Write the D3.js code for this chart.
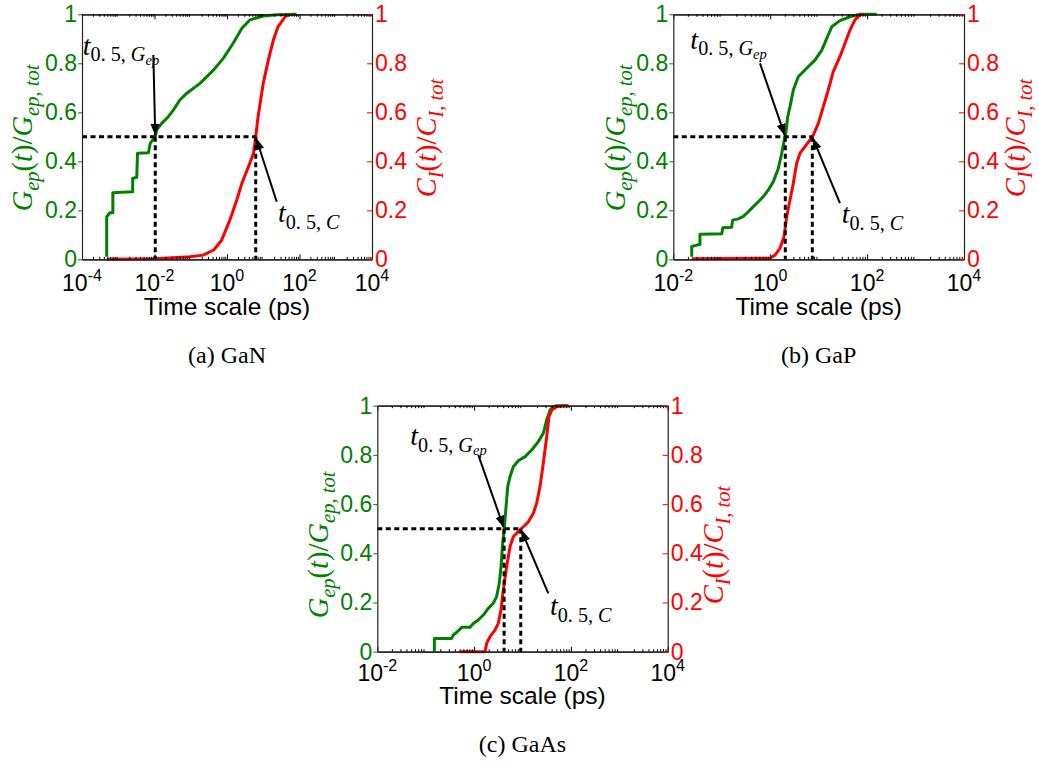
<!DOCTYPE html>
<html>
<head>
<meta charset="utf-8">
<script src="https://cdn.jsdelivr.net/npm/d3@7"></script>
<style>
  body { margin: 0; background: #fff; }
  svg { display: block; }
</style>
</head>
<body>
<svg id="fig" width="1039" height="774"></svg>
<script>
// ---- data: cumulative fractions vs. time (ps) ----
const materials = ["GaN", "GaP", "GaAs"];
const yTicks = [0, 0.2, 0.4, 0.6, 0.8, 1];
const yTickLabels = ["0", "0.2", "0.4", "0.6", "0.8", "1"];
const xExponentsGaN = [-4, -2, 0, 2, 4];
const xExponentsGaP = [-2, 0, 2, 4];
const xExponentsGaAs = [-2, 0, 2, 4];

// electron-phonon coupling G_ep(t)/G_ep,tot  [time ps, fraction]
const ganGep = [
  [4.8e-4, 0.01], [4.8e-4, 0.174], [5.9e-4, 0.19], [7.1e-4, 0.19], [7.1e-4, 0.272],
  [2.34e-3, 0.276], [2.5e-3, 0.276], [2.5e-3, 0.33], [3.24e-3, 0.335], [3.4e-3, 0.433],
  [6.8e-3, 0.435], [7.6e-3, 0.473], [9.3e-3, 0.49], [1.07e-2, 0.505], [1.15e-2, 0.528],
  [1.58e-2, 0.555], [2.4e-2, 0.582], [3.3e-2, 0.609], [5.0e-2, 0.65], [7.8e-2, 0.678],
  [0.18, 0.718], [0.43, 0.773], [0.79, 0.82], [1.48, 0.882], [2.57, 0.943],
  [4.27, 0.977], [10, 0.993], [23.4, 0.998], [83, 1.0]
];
// interatomic force constant change C_I(t)/C_I,tot  [time ps, fraction]
const ganCI = [
  [4.8e-4, 0.0], [0.01, 0.002], [0.095, 0.01], [0.22, 0.017], [0.43, 0.038],
  [0.71, 0.078], [1.2, 0.16], [1.86, 0.242], [2.57, 0.31], [3.9, 0.378],
  [5.4, 0.433], [6.2, 0.5], [7.2, 0.582], [10, 0.718], [13.8, 0.813],
  [19, 0.895], [25.7, 0.95], [40, 0.99], [55, 1.0]
];

const gapGep = [
  [0.024, 0.01], [0.024, 0.052], [0.0304, 0.058], [0.0355, 0.06], [0.0355, 0.102],
  [0.1, 0.104], [0.105, 0.129], [0.16, 0.131], [0.168, 0.16], [0.219, 0.165],
  [0.279, 0.175], [0.353, 0.194], [0.448, 0.215], [0.568, 0.235], [0.721, 0.256],
  [0.914, 0.283], [1.16, 0.317], [1.47, 0.371], [1.73, 0.433], [1.95, 0.487],
  [2.12, 0.521], [2.3, 0.582], [2.56, 0.623], [3.0, 0.691], [3.8, 0.745],
  [5.66, 0.78], [8.4, 0.813], [11.6, 0.854], [14.7, 0.902], [18.6, 0.949],
  [27.5, 0.974], [44.4, 0.99], [71.3, 1.0], [158, 1.0]
];
const gapCI = [
  [0.024, 0.002], [1.0, 0.005], [1.26, 0.017], [1.59, 0.045], [1.93, 0.092],
  [2.19, 0.174], [2.56, 0.242], [3.0, 0.31], [3.52, 0.392], [4.12, 0.433],
  [5.22, 0.46], [6.62, 0.487], [7.76, 0.507], [9.84, 0.555], [12.5, 0.623],
  [15.8, 0.691], [20, 0.766], [27.5, 0.827], [35, 0.882], [44.4, 0.936],
  [56.2, 0.977], [71.3, 0.997], [79.4, 1.0]
];

const gaasGep = [
  [0.151, 0.0], [0.151, 0.054], [0.344, 0.054], [0.372, 0.068], [0.45, 0.081],
  [0.555, 0.099], [0.822, 0.099], [0.964, 0.115], [1.22, 0.129], [1.55, 0.149],
  [1.96, 0.176], [2.49, 0.197], [2.92, 0.224], [3.31, 0.278], [3.6, 0.346],
  [3.89, 0.44], [4.22, 0.508], [4.57, 0.589], [4.94, 0.671], [5.52, 0.711],
  [6.46, 0.752], [8.18, 0.776], [11.3, 0.793], [15.5, 0.82], [21.2, 0.854],
  [26.9, 0.888], [31.6, 0.942], [37, 0.982], [43.3, 0.996], [50.8, 1.0], [88.3, 1.0]
];
const gaasCI = [
  [0.513, 0.0], [1.68, 0.0], [1.82, 0.034], [2.13, 0.061], [2.7, 0.088],
  [3.16, 0.115], [3.6, 0.17], [4.01, 0.251], [4.71, 0.346], [5.52, 0.427],
  [6.46, 0.467], [8.18, 0.488], [9.4, 0.5], [10.4, 0.508], [13.2, 0.528],
  [16.7, 0.562], [19.6, 0.603], [23, 0.671], [26.9, 0.766], [31.6, 0.874],
  [35.2, 0.955], [40.1, 0.982], [50.8, 0.996], [69.7, 1.0], [88.3, 1.0]
];

// half-way times t_0.5 (ps) for each material, in the order of `materials`
const tHalfGep = [0.0105, 2.05, 4.17];
const tHalfCI = [6.2, 7.4, 9.2];

// ---- styling ----
const GREEN = "#008000";
const RED = "#ff0000";
const SANS = "'Liberation Sans', Arial, sans-serif";
const SERIF = "'Liberation Serif', 'Times New Roman', serif";

const svg = d3.select("#fig");

// arrowhead marker
svg.append("defs").append("marker")
  .attr("id", "head")
  .attr("markerUnits", "userSpaceOnUse")
  .attr("viewBox", "0 0 12 10")
  .attr("refX", 11).attr("refY", 5)
  .attr("markerWidth", 12).attr("markerHeight", 10)
  .attr("orient", "auto")
  .append("path").attr("d", "M0,0.5 L12,5 L0,9.5 Z").attr("fill", "#000");

// Write a mathtext-like string into a <text>, segs = [text, level, italic]
// level 0 = normal, 1 = subscript, 2 = sub-subscript
function mathText(sel, segs, base) {
  const size = [base, base * 0.72, base * 0.52];
  const shift = [0, base * 0.24, base * 0.36];
  let cur = 0;
  segs.forEach(([s, lvl, it]) => {
    sel.append("tspan")
      .attr("dy", shift[lvl] - cur)
      .attr("font-size", size[lvl])
      .attr("font-style", it ? "italic" : "normal")
      .text(s);
    cur = shift[lvl];
  });
}

const panels = [
  { name: "GaN", tag: "(a)", G: ganGep, C: ganCI, exps: xExponentsGaN,
    left: 82, right: 372, top: 14.3, bottom: 259.3,
    tickDy: 32, titleDy: 56, captionY: 363,
    yTitleL: 32, yTitleR: 436, yTitleMid: 138,
    labG: [1.05e-4, 0.835], tailG: [9.3e-3, 0.834],
    labC: [25.5, 0.152], tailC: [23.5, 0.235] },
  { name: "GaP", tag: "(b)", G: gapGep, C: gapCI, exps: xExponentsGaP,
    left: 673.3, right: 964, top: 14.3, bottom: 259.3,
    tickDy: 32, titleDy: 56, captionY: 363,
    yTitleL: 625, yTitleR: 1025, yTitleMid: 138,
    labG: [0.0225, 0.86], tailG: [0.616, 0.8],
    labC: [29.9, 0.148], tailC: [27.5, 0.229] },
  { name: "GaAs", tag: "(c)", G: gaasGep, C: gaasCI, exps: xExponentsGaAs,
    left: 377.3, right: 667.7, top: 405.7, bottom: 651.7,
    tickDy: 29, titleDy: 52, captionY: 752,
    yTitleL: 328, yTitleR: 723, yTitleMid: 545,
    labG: [0.048, 0.84], tailG: [1.22, 0.8],
    labC: [36.9, 0.149], tailC: [34.1, 0.237] }
];

panels.forEach((p, i) => {
  const g = svg.append("g").attr("class", "panel-" + p.name);
  const dom = [Math.pow(10, p.exps[0]), Math.pow(10, p.exps[p.exps.length - 1])];
  const x = d3.scaleLog().domain(dom).range([p.left, p.right]);
  const y = d3.scaleLinear().domain([0, 1]).range([p.bottom, p.top]);
  const majors = p.exps.map(e => Math.pow(10, e));
  const minors = [];
  for (let e = p.exps[0]; e < p.exps[p.exps.length - 1]; e++)
    for (let m = 2; m <= 9; m++) minors.push(m * Math.pow(10, e));

  // curves
  const line = d3.line().x(d => x(d[0])).y(d => y(d[1]));
  g.append("path").datum(p.G).attr("d", line)
    .attr("fill", "none").attr("stroke", GREEN).attr("stroke-width", 3)
    .attr("stroke-linejoin", "round");
  g.append("path").datum(p.C).attr("d", line)
    .attr("fill", "none").attr("stroke", RED).attr("stroke-width", 3)
    .attr("stroke-linejoin", "round");

  // guides at the half-way times
  const tg = tHalfGep[i], tc = tHalfCI[i];
  const guides = [
    [[dom[0], 0.5], [tc, 0.5]],
    [[tg, 0.5], [tg, 0]],
    [[tc, 0.5], [tc, 0]]
  ];
  guides.forEach(seg => {
    g.append("line")
      .attr("x1", x(seg[0][0])).attr("y1", y(seg[0][1]))
      .attr("x2", x(seg[1][0])).attr("y2", y(seg[1][1]))
      .attr("stroke", "#000").attr("stroke-width", 3)
      .attr("stroke-dasharray", "5,3.5");
  });

  // axes frame and ticks
  const fr = g.append("g");
  fr.append("g").attr("transform", `translate(0,${p.bottom})`)
    .call(d3.axisBottom(x).tickValues(majors).tickSizeInner(-5).tickSizeOuter(0).tickFormat(""));
  fr.append("g").attr("transform", `translate(0,${p.bottom})`)
    .call(d3.axisBottom(x).tickValues(minors).tickSizeInner(-2.5).tickSizeOuter(0).tickFormat(""));
  fr.append("g").attr("transform", `translate(0,${p.top})`)
    .call(d3.axisTop(x).tickValues(majors).tickSizeInner(-5).tickSizeOuter(0).tickFormat(""));
  fr.append("g").attr("transform", `translate(0,${p.top})`)
    .call(d3.axisTop(x).tickValues(minors).tickSizeInner(-2.5).tickSizeOuter(0).tickFormat(""));

  const leftAx = fr.append("g").attr("transform", `translate(${p.left},0)`)
    .call(d3.axisLeft(y).tickValues(yTicks).tickSizeInner(4).tickSizeOuter(0).tickPadding(1)
      .tickFormat((d, k) => yTickLabels[k]));
  leftAx.selectAll(".tick line").attr("stroke", GREEN);
  leftAx.selectAll(".tick text").attr("fill", GREEN);

  const rightAx = fr.append("g").attr("transform", `translate(${p.right},0)`)
    .call(d3.axisRight(y).tickValues(yTicks).tickSizeInner(-5).tickSizeOuter(0).tickPadding(3)
      .tickFormat((d, k) => yTickLabels[k]));
  rightAx.selectAll(".tick line").attr("stroke", RED);
  rightAx.selectAll(".tick text").attr("fill", RED);

  fr.selectAll(".domain").attr("stroke", "#222").attr("stroke-width", 1.2);
  fr.selectAll(".tick text").attr("font-family", SANS).attr("font-size", 23);
  fr.attr("font-family", SANS);

  // x tick labels 10^n
  p.exps.forEach(e => {
    const t = g.append("text")
      .attr("x", x(Math.pow(10, e))).attr("y", p.bottom + p.tickDy)
      .attr("text-anchor", "middle").attr("font-family", SANS)
      .attr("font-size", 23).attr("fill", "#000");
    t.append("tspan").text("10");
    t.append("tspan").attr("font-size", 16).attr("dy", -10).text(String(e));
  });

  // x axis title
  g.append("text")
    .attr("x", (p.left + p.right) / 2).attr("y", p.bottom + p.titleDy)
    .attr("text-anchor", "middle").attr("font-family", SANS)
    .attr("font-size", 24.5).attr("fill", "#000")
    .text("Time scale (ps)");

  // y axis titles
  const tl = g.append("text")
    .attr("transform", `translate(${p.yTitleL},${p.yTitleMid}) rotate(-90)`)
    .attr("text-anchor", "middle").attr("font-family", SERIF).attr("fill", GREEN);
  mathText(tl, [["G", 0, true], ["ep", 1, true], ["(", 0, false], ["t", 0, true],
    [")/", 0, false], ["G", 0, true], ["ep, tot", 1, true]], 28.5);
  const tr = g.append("text")
    .attr("transform", `translate(${p.yTitleR},${p.yTitleMid}) rotate(-90)`)
    .attr("text-anchor", "middle").attr("font-family", SERIF).attr("fill", RED);
  mathText(tr, [["C", 0, true], ["I", 1, true], ["(", 0, false], ["t", 0, true],
    [")/", 0, false], ["C", 0, true], ["I, tot", 1, true]], 28.5);

  // annotations with arrows pointing at the half-way crossings
  const lg = g.append("text").attr("x", x(p.labG[0])).attr("y", y(p.labG[1]))
    .attr("font-family", SERIF).attr("fill", "#000");
  mathText(lg, [["t", 0, true], ["0. 5, ", 1, false], ["G", 1, true], ["ep", 2, true]], 28);
  const lc = g.append("text").attr("x", x(p.labC[0])).attr("y", y(p.labC[1]))
    .attr("font-family", SERIF).attr("fill", "#000");
  mathText(lc, [["t", 0, true], ["0. 5, ", 1, false], ["C", 1, true]], 28);

  const arrow = (from, to) => {
    const x1 = x(from[0]), y1 = y(from[1]);
    const x2 = x(to[0]), y2 = y(to[1]);
    const L = Math.hypot(x2 - x1, y2 - y1);
    const s = 2;
    g.append("line")
      .attr("x1", x1).attr("y1", y1)
      .attr("x2", x2 - (x2 - x1) / L * s).attr("y2", y2 - (y2 - y1) / L * s)
      .attr("stroke", "#000").attr("stroke-width", 2)
      .attr("marker-end", "url(#head)");
  };
  arrow(p.tailG, [tg, 0.5]);
  arrow(p.tailC, [tc, 0.5]);

  // caption
  g.append("text")
    .attr("x", (p.left + p.right) / 2).attr("y", p.captionY)
    .attr("text-anchor", "middle").attr("font-family", SERIF)
    .attr("font-size", 24).attr("fill", "#000")
    .text(`${p.tag} ${p.name}`);
});
</script>
</body>
</html>
